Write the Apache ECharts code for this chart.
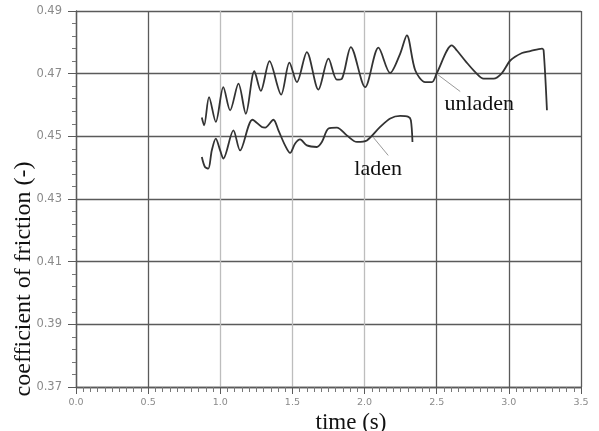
<!DOCTYPE html>
<html>
<head>
<meta charset="utf-8">
<script src="https://cdn.jsdelivr.net/npm/echarts@6/dist/echarts.min.js"></script>
<style>html,body{margin:0;padding:0;background:#fff;}#c{width:599px;height:431px;}</style>
</head>
<body>
<div id="c"></div>
<script>
const unladenT = [0.872,0.888,0.922,0.969,1.021,1.068,1.126,1.177,1.236,1.281,1.341,1.422,1.479,1.531,1.600,1.680,1.750,1.808,1.843,1.905,2.004,2.096,2.177,2.247,2.293,2.351,2.420,2.467,2.501,2.605,2.640,2.705,2.767,2.825,2.894,2.952,3.010,3.091,3.148,3.230,3.241,3.264];
const unladenMu = [0.4560,0.4535,0.4625,0.4546,0.4657,0.4583,0.4668,0.4572,0.4708,0.4645,0.4740,0.4633,0.4735,0.4673,0.4769,0.4649,0.4748,0.4681,0.4684,0.4785,0.4657,0.4783,0.4702,0.4764,0.4822,0.4711,0.4673,0.4673,0.4702,0.4790,0.4774,0.4737,0.4705,0.4684,0.4684,0.4702,0.4742,0.4766,0.4772,0.4780,0.4774,0.4583];
const ladenT = [0.872,0.894,0.917,0.941,0.969,0.999,1.021,1.091,1.137,1.223,1.288,1.311,1.368,1.403,1.449,1.484,1.519,1.553,1.600,1.669,1.704,1.750,1.808,1.877,1.947,2.016,2.108,2.178,2.247,2.304,2.321,2.332];
const ladenMu = [0.4434,0.4402,0.4397,0.4455,0.4493,0.4455,0.4429,0.4519,0.4455,0.4553,0.4530,0.4528,0.4553,0.4519,0.4471,0.4447,0.4477,0.4490,0.4471,0.4466,0.4482,0.4525,0.4528,0.4503,0.4482,0.4487,0.4530,0.4557,0.4565,0.4562,0.4551,0.4482];
const unladenLeader = [[2.663,0.4643],[2.504,0.4698]];
const ladenLeader = [[2.164,0.4439],[2.060,0.4497]];
const unladenLabelPos = [2.795,0.4602];
const ladenLabelPos = [2.094,0.4395];
const xTickLabels = ['0.0','0.5','1.0','1.5','2.0','2.5','3.0','3.5'];

const zip = (a,b) => a.map((v,i)=>[v,b[i]]);
const chart = echarts.init(document.getElementById('c'));
const dark = '#5a5a5a', light = '#bdbdbd';
chart.setOption({
  animation:false,
  backgroundColor:'#fff',
  grid:{left:76,right:18,top:11,bottom:44,containLabel:false,outerBoundsMode:'none'},
  xAxis:{
    type:'value',min:0,max:3.5,interval:0.5,
    axisLine:{show:true,onZero:false,lineStyle:{color:dark,width:1.3}},
    axisTick:{show:true,length:7,lineStyle:{color:dark}},
    minorTick:{show:true,splitNumber:10,length:5,lineStyle:{color:'#777'}},
    axisLabel:{margin:11,fontFamily:'DejaVu Sans',fontSize:9.5,color:'#8a8a8a',formatter:(v)=>xTickLabels[Math.round(v/0.5)]},
    splitLine:{show:true,lineStyle:{width:1.3,color:[dark,dark,light,light,light,dark,dark,dark]}},
    name:'time (s)',nameLocation:'middle',nameGap:24,nameMoveOverlap:false,
    nameTextStyle:{fontFamily:'Liberation Serif',fontSize:23,color:'#111',padding:[0,0,0,45]}
  },
  yAxis:{
    type:'value',min:0.37,max:0.49,interval:0.02,
    axisLine:{show:true,lineStyle:{color:dark,width:1.3}},
    axisTick:{show:true,length:8,lineStyle:{color:dark}},
    minorTick:{show:true,splitNumber:5,length:4,lineStyle:{color:'#777'}},
    axisLabel:{margin:14,fontFamily:'DejaVu Sans',fontSize:11.5,color:'#8a8a8a',formatter:(v)=>v.toFixed(2)},
    splitLine:{show:true,lineStyle:{width:1.3,color:dark}},
    name:'coefficient of friction (-)',nameLocation:'middle',nameGap:40,nameMoveOverlap:false,
    nameTextStyle:{fontFamily:'Liberation Serif',fontSize:24,color:'#111',padding:[0,160,0,0]}
  },
  series:[
    {name:'unladen',type:'line',data:zip(unladenT,unladenMu),smooth:0.3,showSymbol:false,
     lineStyle:{color:'#333',width:1.8},
     markLine:{silent:true,symbol:'none',label:{show:false},lineStyle:{color:'#9a9a9a',width:1,type:'solid'},
       data:[[{coord:unladenLeader[0]},{coord:unladenLeader[1]}]]},
     markPoint:{silent:true,symbol:'circle',symbolSize:0,
       label:{show:true,position:'inside',formatter:'unladen',fontFamily:'Liberation Serif',fontSize:22,color:'#111'},
       data:[{coord:unladenLabelPos}]}
    },
    {name:'laden',type:'line',data:zip(ladenT,ladenMu),smooth:0.3,showSymbol:false,
     lineStyle:{color:'#333',width:1.8},
     markLine:{silent:true,symbol:'none',label:{show:false},lineStyle:{color:'#9a9a9a',width:1,type:'solid'},
       data:[[{coord:ladenLeader[0]},{coord:ladenLeader[1]}]]},
     markPoint:{silent:true,symbol:'circle',symbolSize:0,
       label:{show:true,position:'inside',formatter:'laden',fontFamily:'Liberation Serif',fontSize:22,color:'#111'},
       data:[{coord:ladenLabelPos}]}
    }
  ]
});
</script>
</body>
</html>
